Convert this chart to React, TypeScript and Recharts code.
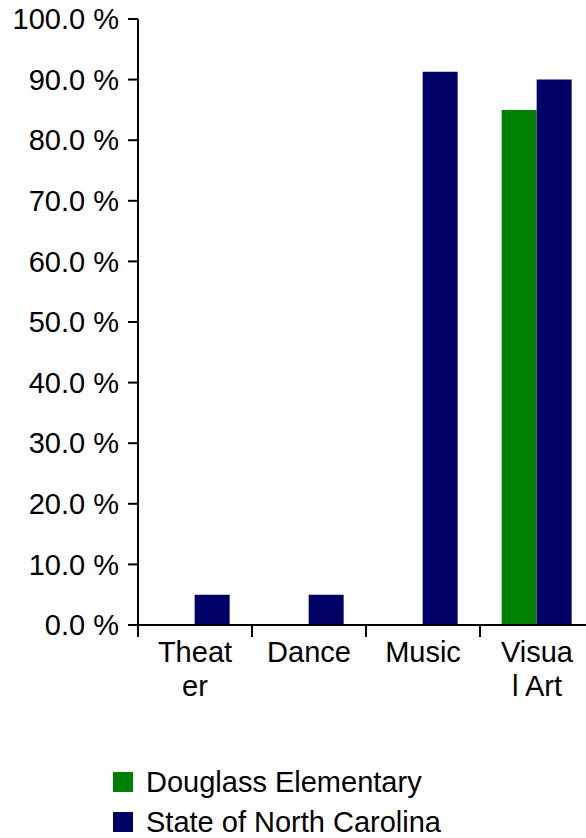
import React from 'react';
import { BarChart, Bar, XAxis, YAxis } from 'recharts';

const categories = ['Theater', 'Dance', 'Music', 'Visual Art'];
const douglass: (number | null)[] = [null, null, null, 85];
const stateNC = [5, 5, 91.3, 90];
const yTicks = [0, 10, 20, 30, 40, 50, 60, 70, 80, 90, 100];

const data = categories.map((c, i) => ({
  name: c,
  douglass: douglass[i],
  state: stateNC[i],
}));

const FONT = '"Liberation Sans", Arial, sans-serif';
const FS = 29;

const XTick = (props: any) => {
  const { x, y, payload } = props;
  const label: string = payload.value;
  const lines: string[] = [];
  for (let i = 0; i < label.length; i += 5) lines.push(label.slice(i, i + 5));
  const off = payload.offset ?? 57;
  return (
    <g>
      <line x1={x - off} x2={x - off} y1={y - 12} y2={y} stroke="#000" strokeWidth={2} />
      <text x={x} y={y} textAnchor="middle" fontSize={FS} fontFamily={FONT} fill="#000">
        {lines.map((l, i) => (
          <tspan key={i} x={x} dy={i === 0 ? 25 : 34}>{l}</tspan>
        ))}
      </text>
    </g>
  );
};

export default function App() {
  return (
    <div style={{ position: 'relative', width: 586, height: 838, overflow: 'hidden', background: '#fff', fontFamily: FONT }}>
      <style>{'body{margin:0}'}</style>
      <BarChart
        width={594}
        height={720}
        data={data}
        margin={{ top: 19, right: 0, bottom: 0, left: 0 }}
        barCategoryGap="19%"
        barGap={0}
      >
        <XAxis
          dataKey="name"
          height={95}
          tickSize={12}
          tickMargin={0}
          tickLine={false}
          axisLine={{ stroke: '#000', strokeWidth: 2 }}
          tick={<XTick />}
          interval={0}
        />
        <YAxis
          width={138}
          domain={[0, 100]}
          ticks={yTicks}
          interval={0}
          tickSize={10}
          tickMargin={9}
          tickFormatter={(v: number) => `${v.toFixed(1)} %`}
          tick={{ fill: '#000', fontSize: FS, fontFamily: FONT }}
          tickLine={{ stroke: '#000', strokeWidth: 2 }}
          axisLine={{ stroke: '#000', strokeWidth: 2 }}
        />
        <Bar dataKey="douglass" name="Douglass Elementary" fill="#008000" isAnimationActive={false} />
        <Bar dataKey="state" name="State of North Carolina" fill="#000066" isAnimationActive={false} />
      </BarChart>
      {[
        { label: 'Douglass Elementary', color: '#008000' },
        { label: 'State of North Carolina', color: '#000066' },
      ].map((item, i) => (
        <div
          key={item.label}
          style={{ position: 'absolute', left: 113, top: 766 + i * 40, height: 32, display: 'flex', alignItems: 'center' }}
        >
          <span style={{ width: 20, height: 20, background: item.color, display: 'inline-block', marginRight: 13 }} />
          <span style={{ fontSize: FS, color: '#000', lineHeight: '32px' }}>{item.label}</span>
        </div>
      ))}
    </div>
  );
}
